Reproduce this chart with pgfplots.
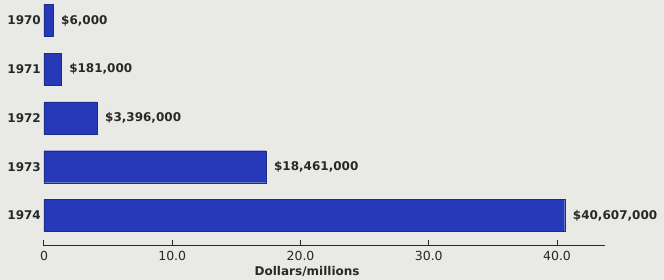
\documentclass[border=0pt]{standalone}
\usepackage{pgfplots}
\pgfplotsset{compat=1.18}
\usepackage{fontspec}
\setmainfont{DejaVu Sans}
\definecolor{bg}{RGB}{233,234,229}
\definecolor{barblue}{RGB}{38,58,185}
\definecolor{txt}{RGB}{40,40,40}
\begin{document}
\begin{tikzpicture}
\fill[bg] (-44pt,-34pt) rectangle (620pt,246pt);
\path[use as bounding box] (-44pt,-34pt) rectangle (620pt,246pt);
\begin{axis}[
  at={(0,0)}, anchor=south west,
  scale only axis, width=561pt, height=246pt,
  xmin=0, xmax=43.74, ymin=-0.626, ymax=4.42,
  clip=false,
  xbar, bar width=32pt, bar shift=0pt,
  axis x line*=bottom, axis y line*=left,
  y axis line style={draw=none},
  x axis line style={txt, line width=1pt, -},
  xtick={0,10,20,30,40}, xticklabels={0,10.0,20.0,30.0,40.0},
  tick align=inside, major tick length=6pt,
  x tick style={txt, line width=1pt},
  ytick={0,1,2,3,4}, yticklabels={1974,1973,1972,1971,1970},
  y tick style={draw=none},
  /pgf/number format/assume math mode=true,
  xticklabel style={font=\fontsize{12.5}{14}\selectfont, text=txt, inner sep=0pt, anchor=north, yshift=-5pt},
  yticklabel style={font=\bfseries\fontsize{12}{14}\selectfont, text=txt, inner sep=0pt, anchor=east, xshift=-3pt},
  nodes near coords, point meta=explicit symbolic,
  every node near coord/.append style={anchor=west, inner sep=0pt, xshift=8pt, font=\bfseries\fontsize{12}{14}\selectfont, text=txt},
  xlabel={Dollars/millions},
  xlabel style={at={(rel axis cs:0.469,0)}, anchor=north, inner sep=0pt, yshift=-20pt, font=\bfseries\fontsize{12}{14}\selectfont, text=txt},
]
\addplot[fill=barblue, draw=barblue!75!black, line width=0.4pt] coordinates {
  (40.6,0) [\$40,607,000]
  (17.3,1) [\$18,461,000]
  (4.13,2) [\$3,396,000]
  (1.33,3) [\$181,000]
  (0.7,4) [\$6,000]
};
\end{axis}
\end{tikzpicture}
\end{document}
